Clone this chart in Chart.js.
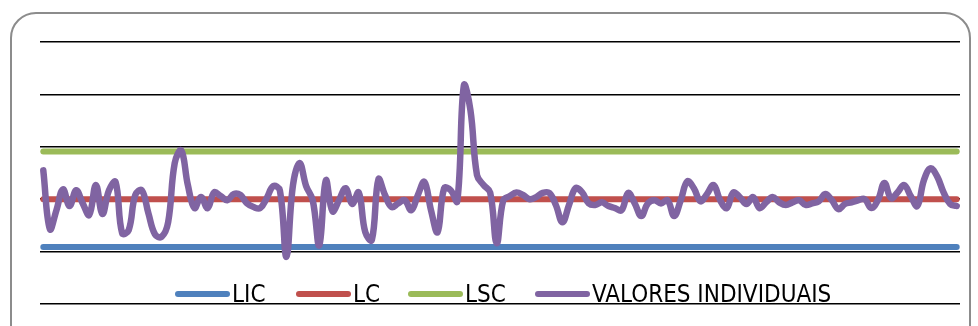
<!DOCTYPE html>
<html>
<head>
<meta charset="utf-8">
<script src="https://cdn.jsdelivr.net/npm/chart.js@4/dist/chart.umd.min.js"></script>
<style>
  html, body { margin: 0; padding: 0; background: #fff; overflow: hidden; }
  #wrap { position: relative; width: 978px; height: 326px; overflow: hidden; }
  #frame {
    position: absolute; left: 10px; top: 12px; width: 961px; height: 360px;
    border: 2px solid #8c8c8c; border-radius: 26px; box-sizing: border-box;
  }
  #chart { position: absolute; left: 0; top: 0; }
  #legend {
    position: absolute; left: 0; top: 280px; width: 978px; height: 28px;
    font-family: 'Liberation Sans Narrow', 'DejaVu Sans Condensed', 'Liberation Sans', sans-serif;
    font-stretch: condensed; font-size: 24px; color: #000;
  }
  .item { position: absolute; top: 0; height: 28px; display: flex; align-items: center; white-space: nowrap; }
  .sw { width: 55px; height: 6px; border-radius: 3px; margin-right: 2px; }
</style>
</head>
<body>
<div id="wrap">
  <div id="frame"></div>
  <canvas id="chart" width="978" height="326"></canvas>
  <div id="legend"></div>
</div>
<script>
// Control chart: individual values against lower, centre and upper control limits
const seriesNames = ['LIC', 'LC', 'LSC', 'VALORES INDIVIDUAIS'];
const seriesColors = ['#4F81BD', '#C0504D', '#9BBB59', '#8064A2'];

const LIC = 1.09;
const LC = 2.00;
const LSC = 2.91;

const individualValues = [
  2.55, 1.43, 1.79, 2.19, 1.87, 2.17, 1.92, 1.70, 2.27, 1.72,
  2.17, 2.33, 1.35, 1.41, 2.08, 2.17, 1.73, 1.33, 1.28, 1.56,
  2.69, 2.93, 2.27, 1.83, 2.04, 1.83, 2.13, 2.06, 1.98, 2.10,
  2.08, 1.92, 1.85, 1.83, 2.02, 2.25, 2.17, 0.90, 2.27, 2.69,
  2.25, 1.98, 1.12, 2.36, 1.77, 1.98, 2.21, 1.91, 2.13, 1.37,
  1.22, 2.38, 2.08, 1.85, 1.92, 1.98, 1.79, 2.08, 2.33, 1.79,
  1.37, 2.21, 2.17, 1.96, 4.17, 3.70, 2.46, 2.27, 2.13, 1.16,
  1.98, 2.06, 2.13, 2.08, 2.00, 2.04, 2.12, 2.12, 1.89, 1.56,
  1.89, 2.21, 2.13, 1.92, 1.89, 1.94, 1.87, 1.83, 1.79, 2.12,
  1.92, 1.68, 1.92, 1.98, 1.92, 1.98, 1.68, 1.98, 2.34, 2.21,
  1.96, 2.10, 2.27, 1.98, 1.83, 2.13, 2.04, 1.91, 2.04, 1.83,
  1.94, 2.04, 1.94, 1.89, 1.94, 1.98, 1.89, 1.92, 1.96, 2.10,
  1.98, 1.81, 1.91, 1.94, 1.98, 2.00, 1.83, 1.98, 2.31, 2.02,
  2.13, 2.27, 2.06, 1.87, 2.36, 2.59, 2.44, 2.13, 1.91, 1.87
];

const categories = individualValues.map((_, i) => String(i + 1));
const yTicks = { min: 0, max: 5, step: 1 };

const constant = v => categories.map(() => v);

function lineSet(idx, data, width, order, tension) {
  return {
    label: seriesNames[idx],
    data: data,
    borderColor: seriesColors[idx],
    backgroundColor: seriesColors[idx],
    borderWidth: width,
    borderCapStyle: 'round',
    borderJoinStyle: 'round',
    pointRadius: 0,
    pointHoverRadius: 0,
    tension: tension,
    fill: false,
    order: order
  };
}

new Chart(document.getElementById('chart'), {
  type: 'line',
  data: {
    labels: categories,
    datasets: [
      lineSet(0, constant(LIC), 6, 4, 0),
      lineSet(1, constant(LC), 6, 3, 0),
      lineSet(2, constant(LSC), 6, 2, 0),
      lineSet(3, individualValues, 6.5, 1, 0.4)
    ]
  },
  options: {
    responsive: false,
    animation: false,
    events: [],
    layout: { padding: { left: 40, right: 18, top: 42, bottom: 22 } },
    plugins: { legend: { display: false }, tooltip: { enabled: false } },
    scales: {
      x: { display: false, offset: true },
      y: {
        min: yTicks.min, max: yTicks.max,
        ticks: { display: false, stepSize: yTicks.step },
        border: { display: false },
        grid: { color: '#000', lineWidth: 1.6, drawTicks: false }
      }
    }
  }
});

// Legend row laid over the lower part of the plot
const legendLeft = [175, 296, 408, 535];
const legend = document.getElementById('legend');
seriesNames.forEach((name, i) => {
  const item = document.createElement('div');
  item.className = 'item';
  item.style.left = legendLeft[i] + 'px';
  const sw = document.createElement('div');
  sw.className = 'sw';
  sw.style.background = seriesColors[i];
  const label = document.createElement('span');
  label.textContent = name;
  item.appendChild(sw);
  item.appendChild(label);
  legend.appendChild(item);
});
</script>
</body>
</html>
